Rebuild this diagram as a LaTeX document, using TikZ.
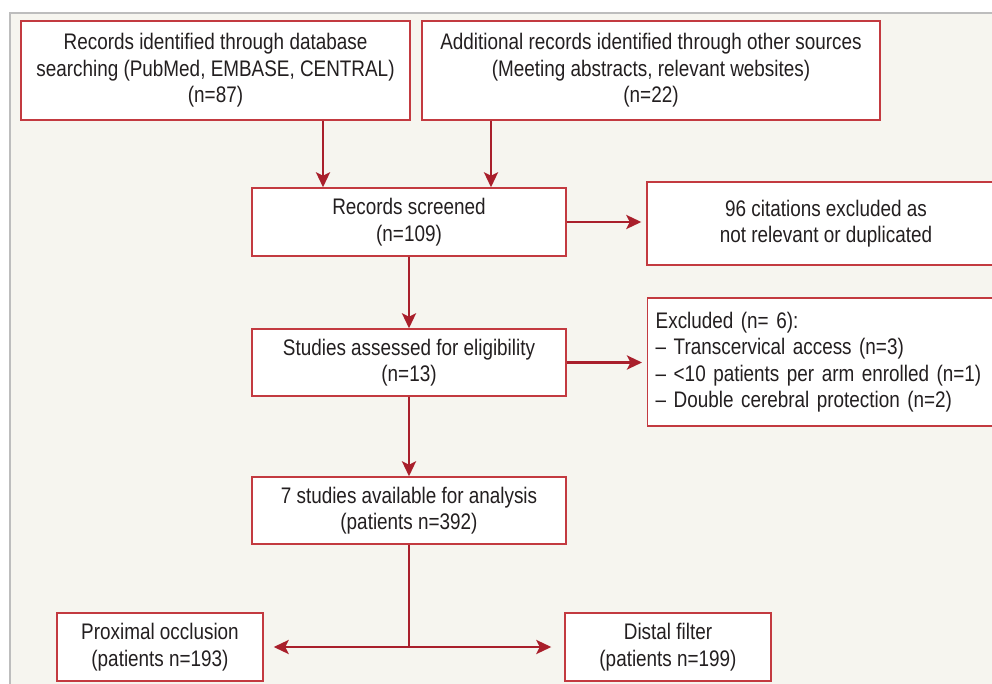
\documentclass[tikz,border=0pt]{standalone}
\usepackage{fontspec}
\setmainfont{Liberation Sans}[FakeStretch=0.84]
\usepackage{tikz}
\usetikzlibrary{arrows.meta,calc}

\definecolor{panelbg}{HTML}{F6F5EF}
\definecolor{panelline}{HTML}{BDBDBD}
\definecolor{boxred}{HTML}{C33A40}
\definecolor{arrred}{HTML}{A91F2B}
\definecolor{txt}{HTML}{231F20}

\tikzset{
	flowbox/.style = {draw=boxred, line width=1.4pt, fill=white, text=txt, align=center, inner sep=0pt,
		font=\fontsize{22.5}{26.5}\selectfont},
	flowarr/.style = {draw=arrred, line width=2.8pt, -{Stealth[length=15pt,width=14pt,inset=3.5pt]}},
	flowline/.style = {draw=arrred, line width=2.8pt}
}

\begin{document}
\begin{tikzpicture}[x=1pt,y=-1pt]
		\clip (0,0) rectangle (992,684);
		\fill[white] (0,0) rectangle (992,684);
		\fill[panelbg] (10,13) rectangle (992,684);
		\draw[panelline, line width=1.2pt] (10,684) -- (10,13) -- (992,13);

		\node[flowbox, minimum width=389pt, minimum height=99pt] (dbrec) at (215.5,70.5)
			{Records identified through database\\searching (PubMed, EMBASE, CENTRAL)\\(n=87)};
		\node[flowbox, minimum width=458pt, minimum height=99pt] (otherrec) at (651,70.5)
			{Additional records identified through other sources\\(Meeting abstracts, relevant websites)\\(n=22)};
		\node[flowbox, minimum width=314pt, minimum height=68pt] (screened) at (409,222)
			{Records screened\\(n=109)};
		\node[flowbox, minimum width=358pt, minimum height=83pt] (citexcl) at (826,223.5)
			{96 citations excluded as\\not relevant or duplicated};
		\node[flowbox, minimum width=314pt, minimum height=67pt] (eligible) at (409,362.5)
			{Studies assessed for eligibility\\(n=13)};
		\node[flowbox, anchor=west, align=left, text width=342pt, inner xsep=8pt, minimum height=128pt] (excluded) at (647,362)
			{Excluded (n= 6):\\-- Transcervical access (n=3)\\-- <10 patients per arm enrolled (n=1)\\-- Double cerebral protection (n=2)};
		\node[flowbox, minimum width=314pt, minimum height=67pt] (avail) at (409,510.5)
			{7 studies available for analysis\\(patients n=392)};
		\node[flowbox, minimum width=206pt, minimum height=68pt] (proximal) at (160,647)
			{Proximal occlusion\\(patients n=193)};
		\node[flowbox, minimum width=206pt, minimum height=68pt] (distal) at (668,647)
			{Distal filter\\(patients n=199)};

		\draw[flowarr] ([xshift=107.5pt]dbrec.south) -- ([xshift=107.5pt]dbrec.south |- screened.north);
		\draw[flowarr] ([xshift=-160pt]otherrec.south) -- ([xshift=-160pt]otherrec.south |- screened.north);
		\draw[flowarr, shorten >=5pt] (screened.east) -- (screened.east -| citexcl.west);
		\draw[flowarr] (screened.south) -- (eligible.north);
		\draw[flowarr, shorten >=5pt] (eligible.east) -- (eligible.east -| excluded.west);
		\draw[flowarr] (eligible.south) -- (avail.north);
		\coordinate (split) at (avail.south |- proximal.east);
		\draw[flowline] (avail.south) -- (split);
		\draw[flowarr, shorten >=10pt] (split) -- (proximal.east);
		\draw[flowarr, shorten >=13pt] (split) -- (distal.west);
	\end{tikzpicture}
\end{document}
